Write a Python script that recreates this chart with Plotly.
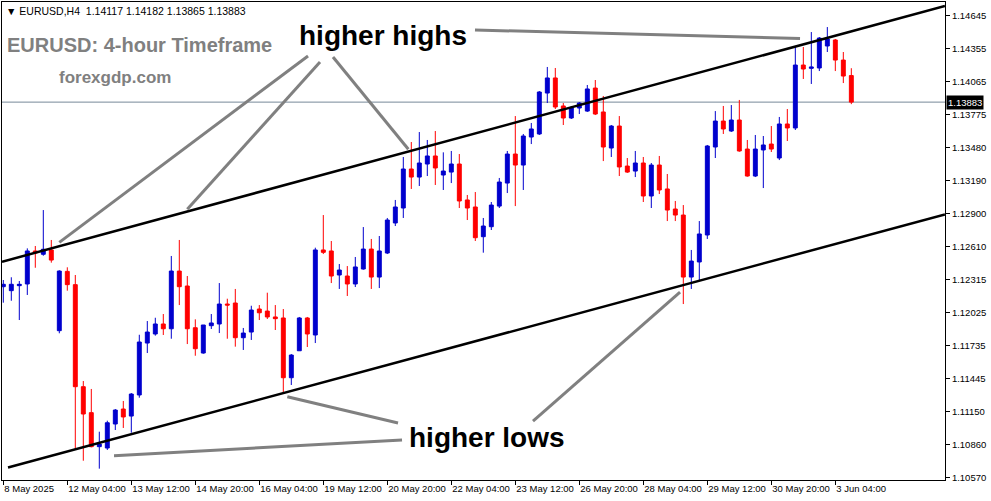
import plotly.graph_objects as go

# ---------------- data (EURUSD H4) ----------------
BAR_INDEX = list(range(107))

OPEN = [1.12255, 1.12220, 1.12264, 1.12279, 1.12570, 1.12541, 1.12579, 1.11867, 1.12390, 1.12273,
        1.11373, 1.11144, 1.10844, 1.10832, 1.11044, 1.11176, 1.11114, 1.11300, 1.11758, 1.11838,
        1.11926, 1.11884, 1.12393, 1.12261, 1.11893, 1.11670, 1.11911, 1.11926, 1.12102, 1.12111,
        1.11805, 1.11855, 1.12058, 1.12040, 1.11988, 1.11979, 1.11452, 1.11690, 1.11979, 1.11829,
        1.12579, 1.12570, 1.12358, 1.12349, 1.12279, 1.12411, 1.12587, 1.12340, 1.12552, 1.12817,
        1.12949, 1.13293, 1.13222, 1.13337, 1.13408, 1.13240, 1.13266, 1.13337, 1.13020, 1.12958,
        1.12696, 1.12784, 1.12966, 1.13169, 1.13425, 1.13328, 1.13575, 1.13602, 1.13963, 1.14096,
        1.13849, 1.13743, 1.13831, 1.13804, 1.14007, 1.13796, 1.13478, 1.13672, 1.13319, 1.13275,
        1.13346, 1.13055, 1.13328, 1.13117, 1.12940, 1.12887, 1.12340, 1.12473, 1.12711, 1.13487,
        1.13716, 1.13628, 1.13725, 1.13469, 1.13231, 1.13461, 1.13513, 1.13390, 1.13690, 1.13655,
        1.14210, 1.14181, 1.14184, 1.14378, 1.14431, 1.14254, 1.14117]

HIGH = [1.12314, 1.12338, 1.12305, 1.12593, 1.12614, 1.12931, 1.12667, 1.12400, 1.12426, 1.12358,
        1.11423, 1.11353, 1.10976, 1.11073, 1.11176, 1.11247, 1.11317, 1.11831, 1.11952, 1.11981,
        1.12014, 1.12526, 1.12667, 1.12349, 1.11967, 1.11917, 1.12014, 1.12287, 1.12149, 1.12235,
        1.11891, 1.12087, 1.12093, 1.12202, 1.12093, 1.12058, 1.11661, 1.11988, 1.11988, 1.12599,
        1.12887, 1.12658, 1.12455, 1.12437, 1.12517, 1.12781, 1.12676, 1.12702, 1.12861, 1.13020,
        1.13399, 1.13531, 1.13619, 1.13549, 1.13628, 1.13440, 1.13452, 1.13425, 1.13064, 1.13090,
        1.12861, 1.13002, 1.13214, 1.13452, 1.13760, 1.13602, 1.13699, 1.13981, 1.14193, 1.14184,
        1.13875, 1.13849, 1.13884, 1.14034, 1.14078, 1.13937, 1.13681, 1.13760, 1.13390, 1.13452,
        1.13399, 1.13346, 1.13408, 1.13249, 1.13011, 1.12975, 1.12579, 1.12834, 1.13505, 1.13804,
        1.13849, 1.13857, 1.13902, 1.13549, 1.13593, 1.13584, 1.13672, 1.13752, 1.13822, 1.14369,
        1.14369, 1.14501, 1.14457, 1.14545, 1.14440, 1.14325, 1.14182]

LOW = [1.12114, 1.12131, 1.11961, 1.12182, 1.12422, 1.12528, 1.12467, 1.11844, 1.12220, 1.10821,
       1.10720, 1.10838, 1.10650, 1.10815, 1.10991, 1.11009, 1.10967, 1.11276, 1.11670, 1.11823,
       1.11829, 1.11796, 1.12093, 1.11749, 1.11646, 1.11664, 1.11882, 1.11846, 1.11796, 1.11726,
       1.11697, 1.11785, 1.11961, 1.11970, 1.11873, 1.11315, 1.11388, 1.11690, 1.11723, 1.11758,
       1.12543, 1.12287, 1.12235, 1.12173, 1.12252, 1.12405, 1.12235, 1.12243, 1.12543, 1.12790,
       1.12861, 1.13117, 1.13143, 1.13231, 1.13152, 1.13108, 1.13169, 1.12949, 1.12843, 1.12658,
       1.12555, 1.12755, 1.12949, 1.13081, 1.12966, 1.13108, 1.13513, 1.13593, 1.13875, 1.13822,
       1.13681, 1.13734, 1.13778, 1.13796, 1.13769, 1.13363, 1.13399, 1.13231, 1.13258, 1.13222,
       1.13002, 1.12949, 1.13072, 1.12834, 1.12834, 1.12102, 1.12235, 1.12314, 1.12676, 1.13390,
       1.13602, 1.13620, 1.13445, 1.13225, 1.13222, 1.13125, 1.13443, 1.13372, 1.13540, 1.13637,
       1.14087, 1.14043, 1.14157, 1.14325, 1.14157, 1.14051, 1.13865]

CLOSE = [1.12276, 1.12276, 1.12276, 1.12570, 1.12552, 1.12585, 1.12490, 1.12393, 1.12273, 1.11373,
         1.11132, 1.10844, 1.10867, 1.11055, 1.11167, 1.11106, 1.11308, 1.11767, 1.11855, 1.11926,
         1.11884, 1.12393, 1.12255, 1.11884, 1.11708, 1.11917, 1.11935, 1.12102, 1.12093, 1.11805,
         1.11846, 1.12049, 1.12025, 1.11988, 1.11973, 1.11452, 1.11652, 1.11979, 1.11838, 1.12579,
         1.12558, 1.12349, 1.12402, 1.12279, 1.12429, 1.12587, 1.12340, 1.12570, 1.12843, 1.12958,
         1.13293, 1.13222, 1.13346, 1.13408, 1.13302, 1.13275, 1.13337, 1.13011, 1.12949, 1.12687,
         1.12790, 1.12975, 1.13178, 1.13425, 1.13328, 1.13584, 1.13646, 1.13972, 1.14096, 1.13840,
         1.13743, 1.13831, 1.13875, 1.13999, 1.13778, 1.13487, 1.13672, 1.13311, 1.13266, 1.13346,
         1.13055, 1.13328, 1.13108, 1.12931, 1.12887, 1.12340, 1.12481, 1.12720, 1.13496, 1.13716,
         1.13646, 1.13725, 1.13452, 1.13231, 1.13469, 1.13505, 1.13469, 1.13690, 1.13655, 1.14210,
         1.14175, 1.14193, 1.14448, 1.14440, 1.14254, 1.14113, 1.13883]

TICK_POS = [0, 8, 16, 24, 32, 40, 48, 56, 64, 72, 80, 88, 96, 104]
TICK_LABELS = ["8 May 2025", "12 May 04:00", "13 May 12:00", "14 May 20:00", "16 May 04:00",
               "19 May 12:00", "20 May 20:00", "22 May 04:00", "23 May 12:00", "26 May 20:00",
               "28 May 04:00", "29 May 12:00", "30 May 20:00", "3 Jun 04:00"]

Y_TICKS = [1.14645, 1.14355, 1.14065, 1.13775, 1.13480, 1.13190, 1.12900, 1.12610,
           1.12315, 1.12025, 1.11735, 1.11445, 1.11150, 1.10860, 1.10570]
Y_TICK_LABELS = ["%.5f" % v for v in Y_TICKS]

LAST_PRICE = 1.13883
HEADER = "▼ EURUSD,H4\u00a0\u00a01.14117 1.14182 1.13865 1.13883"

# channel lines (bar index, price)
UPPER_CHANNEL_X = [-0.16, 117.7]
UPPER_CHANNEL_Y = [1.12475, 1.14731]
LOWER_CHANNEL_X = [0.59, 117.7]
LOWER_CHANNEL_Y = [1.10660, 1.12893]

# pointer lines (bar index, price) -> (bar index, price)
HIGH_POINTERS = [((38.09, 1.14290), (7.00, 1.12646)),
                 ((39.59, 1.14237), (23.00, 1.12937)),
                 ((41.21, 1.14281), (50.63, 1.13467)),
                 ((58.96, 1.14519), (99.59, 1.14444))]
LOW_POINTERS = [((49.84, 1.10903), (13.84, 1.10764)),
                ((49.34, 1.11053), (35.50, 1.11285)),
                ((66.21, 1.11070), (84.59, 1.12208))]

# ---------------- styling ----------------
BLUE = "#0000CD"
RED = "#FF0000"
GRAY_TEXT = "#808080"
FONT = "Liberation Sans"

W, H = 991, 501
L, R, T, B = 2, 46, 2, 21
PW, PH = W - L - R, H - T - B


def px_x(x):
    return (x - L) / PW


def px_y(y):
    return 1 - (y - T) / PH


fig = go.Figure()

fig.add_trace(go.Candlestick(
    x=BAR_INDEX, open=OPEN, high=HIGH, low=LOW, close=CLOSE,
    increasing=dict(line=dict(color=BLUE, width=1), fillcolor=BLUE),
    decreasing=dict(line=dict(color=RED, width=1), fillcolor=RED),
    whiskerwidth=0, showlegend=False, hoverinfo="skip"))

for xs, ys in ((UPPER_CHANNEL_X, UPPER_CHANNEL_Y), (LOWER_CHANNEL_X, LOWER_CHANNEL_Y)):
    fig.add_trace(go.Scatter(x=xs, y=ys, mode="lines",
                             line=dict(color="black", width=2.5),
                             showlegend=False, hoverinfo="skip"))

shapes = [dict(type="line", xref="paper", yref="y", x0=0, x1=1,
               y0=LAST_PRICE, y1=LAST_PRICE, line=dict(color="#778899", width=1),
               layer="below")]
for (a, b) in HIGH_POINTERS + LOW_POINTERS:
    shapes.append(dict(type="line", xref="x", yref="y", x0=a[0], y0=a[1], x1=b[0], y1=b[1],
                       line=dict(color="#808080", width=3)))

annotations = [
    dict(text=HEADER, xref="paper", yref="paper", x=px_x(4), y=px_y(10.5),
         xanchor="left", yanchor="middle", showarrow=False,
         font=dict(family=FONT, size=10.5, color="black")),
    dict(text="<b>EURUSD: 4-hour Timeframe</b>", xref="paper", yref="paper",
         x=px_x(5), y=px_y(45), xanchor="left", yanchor="middle", showarrow=False,
         font=dict(family=FONT, size=20, color=GRAY_TEXT)),
    dict(text="<b>forexgdp.com</b>", xref="paper", yref="paper",
         x=px_x(57), y=px_y(78), xanchor="left", yanchor="middle", showarrow=False,
         font=dict(family=FONT, size=17, color=GRAY_TEXT)),
    dict(text="<b>higher highs</b>", xref="paper", yref="paper",
         x=px_x(383), y=px_y(35), xanchor="center", yanchor="middle", showarrow=False,
         font=dict(family=FONT, size=28, color="black")),
    dict(text="<b>higher lows</b>", xref="paper", yref="paper",
         x=px_x(487), y=px_y(437), xanchor="center", yanchor="middle", showarrow=False,
         font=dict(family=FONT, size=28, color="black")),
    dict(text="%.5f" % LAST_PRICE, xref="paper", yref="y", x=1, y=LAST_PRICE,
         xanchor="left", yanchor="middle", xshift=1, showarrow=False,
         bgcolor="black", borderpad=1,
         font=dict(family=FONT, size=9.5, color="white")),
]

fig.update_layout(
    width=W, height=H,
    margin=dict(l=L, r=R, t=T, b=B, pad=0),
    paper_bgcolor="white", plot_bgcolor="white",
    showlegend=False, hovermode=False,
    shapes=shapes, annotations=annotations,
    xaxis=dict(range=[-0.1625, 117.71], tickvals=TICK_POS, ticktext=TICK_LABELS,
               tickangle=0, automargin=False,
               ticks="outside", ticklen=4, tickcolor="black", tickwidth=1,
               ticklabelposition="outside right",
               showline=True, linecolor="black", linewidth=1, mirror=True,
               showgrid=False, zeroline=False, rangeslider=dict(visible=False),
               tickfont=dict(family=FONT, size=9.5, color="black")),
    yaxis=dict(side="right", range=[1.10550, 1.14766], tickvals=Y_TICKS, ticktext=Y_TICK_LABELS,
               automargin=False,
               ticks="outside", ticklen=4, tickcolor="black", tickwidth=1,
               showline=True, linecolor="black", linewidth=1, mirror=True,
               showgrid=False, zeroline=False,
               tickfont=dict(family=FONT, size=9.5, color="black")),
)

fig.write_html("out.html",
               config={"displayModeBar": False, "staticPlot": True},
               post_script="document.body.style.margin='0';document.body.style.overflow='hidden';")
